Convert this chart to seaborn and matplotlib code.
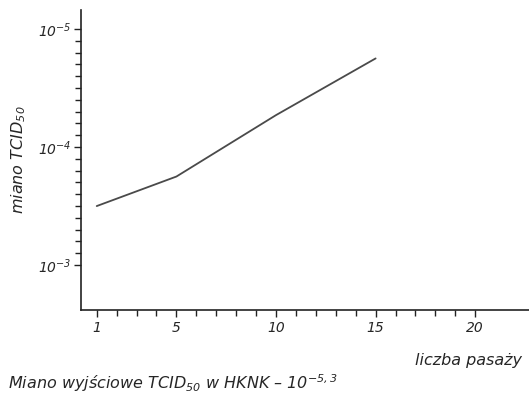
import matplotlib
matplotlib.use("Agg")
import matplotlib.pyplot as plt
import seaborn as sns
import pandas as pd
import numpy as np
from matplotlib.ticker import FixedLocator

# data: passage number vs titre exponent (TCID50 = 10^exp)
passages = [1, 5, 10, 15]
titre_exp = [-3.5, -3.75, -4.27, -4.75]
y_major = [-5, -4, -3]
y_labels = ["$10^{-5}$", "$10^{-4}$", "$10^{-3}$"]
x_major = [1, 5, 10, 15, 20]

sns.set_style("white")
plt.rcParams["font.family"] = ["DejaVu Sans"]
plt.rcParams["font.style"] = "italic"
plt.rcParams["mathtext.fontset"] = "custom"
plt.rcParams["mathtext.rm"] = "DejaVu Sans:italic"
plt.rcParams["mathtext.it"] = "DejaVu Sans:italic"
plt.rcParams["mathtext.default"] = "it"

df = pd.DataFrame({"pasaz": passages, "miano": titre_exp})

fig = plt.figure(figsize=(5.29, 3.99), dpi=100)
ax = fig.add_axes([81/529, 1-310/399, 1-81/529, 300/399])
sns.lineplot(data=df, x="pasaz", y="miano", ax=ax, color="#4a4a4a", lw=1.3)

ax.set_xlim(0.21, 22.7)
ax.set_ylim(-2.62, -5.16)
for s in ["top", "right"]:
    ax.spines[s].set_visible(False)
for s in ["left", "bottom"]:
    ax.spines[s].set_color("#222222")
    ax.spines[s].set_linewidth(1.2)

ax.set_xticks(x_major)
ax.set_xticklabels([str(v) for v in x_major], fontsize=10, style="italic")
ax.xaxis.set_minor_locator(FixedLocator(np.arange(1, 21, 1)))
ax.set_yticks(y_major)
ax.set_yticklabels(y_labels, fontsize=10)
ax.yaxis.set_minor_locator(FixedLocator(np.arange(-5, -2.95, 0.1)))
ax.tick_params(axis="x", which="both", bottom=True, direction="out",
               color="#222222", width=1.0)
ax.tick_params(axis="y", which="both", left=True, direction="out",
               color="#222222", width=1.0)
ax.tick_params(axis="both", which="major", length=5)
ax.tick_params(axis="both", which="minor", length=4)
ax.tick_params(axis="x", pad=3)
ax.tick_params(axis="y", pad=2)
ax.set_xlabel("")
ax.set_ylabel("miano TCID$_{50}$", fontsize=11.5, labelpad=7)

fig.text(522/529, 1-361/399, "liczba pasaży", ha="right", va="center", fontsize=11.5)
fig.text(8/529, 1-383/399, "Miano wyjściowe TCID$_{50}$ w HKNK – 10$^{-5,3}$",
         ha="left", va="center", fontsize=11.5)

fig.savefig("out.png", dpi=100)
